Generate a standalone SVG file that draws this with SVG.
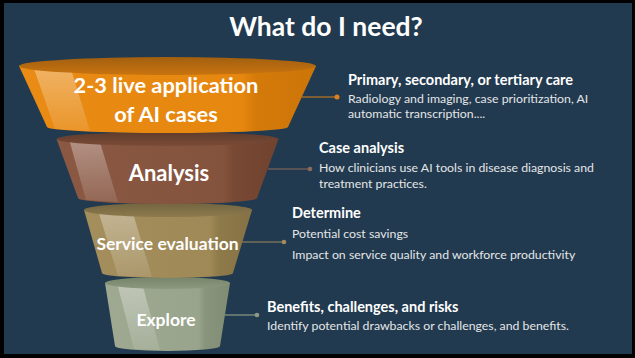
<svg xmlns="http://www.w3.org/2000/svg" width="635" height="358" viewBox="0 0 635 358">
<defs>
<style>
.t{font-family:Lato,"Liberation Sans",sans-serif;fill:#fff;font-weight:bold}
.h{font-family:Lato,"Liberation Sans",sans-serif;fill:#fff;font-weight:bold;font-size:14.5px}
.b{font-family:Lato,"Liberation Sans",sans-serif;fill:#e4e6e8;font-size:12.3px}
.ft{font-family:Lato,"Liberation Sans",sans-serif;fill:#fff;font-weight:bold;text-anchor:middle}
.hl{fill:url(#hlg)}
</style>
<linearGradient id="hlg" x1="0" y1="0" x2="0" y2="1"><stop offset="0" stop-color="#fff" stop-opacity="0.35"/><stop offset="1" stop-color="#fff" stop-opacity="0.1"/></linearGradient>
<linearGradient id="o1" x1="0" y1="0" x2="1" y2="0"><stop offset="0" stop-color="#e98b14"/><stop offset="0.75" stop-color="#e6870f"/><stop offset="0.8" stop-color="#d47a0a"/><stop offset="1" stop-color="#cc7508"/></linearGradient>
<linearGradient id="o2" x1="0" y1="0" x2="0" y2="1"><stop offset="0" stop-color="#a25f10"/><stop offset="1" stop-color="#c8740f"/></linearGradient>
<linearGradient id="b1" x1="0" y1="0" x2="1" y2="0"><stop offset="0" stop-color="#8a5843"/><stop offset="0.75" stop-color="#84533e"/><stop offset="0.8" stop-color="#784934"/><stop offset="1" stop-color="#70432f"/></linearGradient>
<linearGradient id="b2" x1="0" y1="0" x2="0" y2="1"><stop offset="0" stop-color="#603c2c"/><stop offset="1" stop-color="#7a4b37"/></linearGradient>
<linearGradient id="s1" x1="0" y1="0" x2="1" y2="0"><stop offset="0" stop-color="#a48e5c"/><stop offset="0.75" stop-color="#9f8957"/><stop offset="0.8" stop-color="#8f7a4a"/><stop offset="1" stop-color="#857145"/></linearGradient>
<linearGradient id="s2" x1="0" y1="0" x2="0" y2="1"><stop offset="0" stop-color="#746541"/><stop offset="1" stop-color="#8d7a4d"/></linearGradient>
<linearGradient id="g1" x1="0" y1="0" x2="1" y2="0"><stop offset="0" stop-color="#9fa992"/><stop offset="0.75" stop-color="#99a48c"/><stop offset="0.8" stop-color="#88947c"/><stop offset="1" stop-color="#808d74"/></linearGradient>
<linearGradient id="g2" x1="0" y1="0" x2="0" y2="1"><stop offset="0" stop-color="#76846a"/><stop offset="1" stop-color="#8c997f"/></linearGradient>
</defs>
<rect x="0" y="0" width="635" height="358" fill="#000"/>
<rect x="4" y="3" width="628" height="351" fill="#223a4f"/>
<text class="t" x="326" y="36" font-size="26.5" text-anchor="middle">What do I need?</text>

<g id="seg4">
<path d="M105,283 L230,283 L220,346 A52.5,5 0 0 1 115,346 Z" fill="url(#g1)"/>
<path class="hl" d="M117,283 L142,283 L160,350 L134,349 Z"/>
<ellipse cx="167.5" cy="283" rx="62.5" ry="6" fill="url(#g2)"/>
<text class="ft" x="166" y="326" font-size="17.5">Explore</text>
</g>
<g id="seg3">
<path d="M84,210 L252,210 L233,273 A65.5,5 0 0 1 102,273 Z" fill="url(#s1)"/>
<path class="hl" d="M98,210 L132,210 L152,277 L118,276 Z"/>
<ellipse cx="168" cy="210" rx="84" ry="7" fill="url(#s2)"/>
<text class="ft" x="167.5" y="250" font-size="17.5">Service evaluation</text>
</g>
<g id="seg2">
<path d="M56.5,139 L278.5,139 L257,198 A89.5,6 0 0 1 78,198 Z" fill="url(#b1)"/>
<path class="hl" d="M69,139 L99,139 L118,202 L86,200 Z"/>
<ellipse cx="167.5" cy="139" rx="111" ry="7" fill="url(#b2)"/>
<text class="ft" x="169" y="181" font-size="22">Analysis</text>
</g>
<g id="seg1">
<path d="M19,66 L316,66 L288,127 A120.5,6 0 0 1 47,127 Z" fill="url(#o1)"/>
<path class="hl" d="M33,66 L70,66 L90,131 L55,129 Z"/>
<ellipse cx="167.5" cy="66" rx="148.5" ry="9" fill="url(#o2)"/>
<text class="ft" x="166" y="93" font-size="21.8">2-3 live application</text>
<text class="ft" x="166" y="122" font-size="21.8">of AI cases</text>
</g>

<g id="connectors" stroke-width="1.2">
<line x1="302" y1="97" x2="337" y2="97" stroke="#d9821a"/>
<circle cx="337" cy="97" r="2.5" fill="#d9821a"/>
<line x1="268" y1="169" x2="310" y2="169" stroke="#8d6a5c"/>
<circle cx="310" cy="169" r="2.3" fill="#8d6a5c"/>
<line x1="242" y1="242" x2="284" y2="242" stroke="#a08a5e"/>
<circle cx="284" cy="242" r="2.3" fill="#a08a5e"/>
<line x1="225" y1="315" x2="257" y2="315" stroke="#8c9a86"/>
<circle cx="257" cy="315" r="2.3" fill="#8c9a86"/>
</g>

<g id="text1">
<text class="h" x="348" y="85">Primary, secondary, or tertiary care</text>
<text class="b" x="348" y="103">Radiology and imaging, case prioritization, AI</text>
<text class="b" x="348" y="118">automatic transcription....</text>
</g>
<g id="text2">
<text class="h" x="319" y="153">Case analysis</text>
<text class="b" x="319" y="172">How clinicians use AI tools in disease diagnosis and</text>
<text class="b" x="319" y="188">treatment practices.</text>
</g>
<g id="text3">
<text class="h" x="292" y="218">Determine</text>
<text class="b" x="292" y="238">Potential cost savings</text>
<text class="b" x="292" y="259">Impact on service quality and workforce productivity</text>
</g>
<g id="text4">
<text class="h" x="267" y="312">Benefits, challenges, and risks</text>
<text class="b" x="267" y="330">Identify potential drawbacks or challenges, and benefits.</text>
</g>
</svg>
